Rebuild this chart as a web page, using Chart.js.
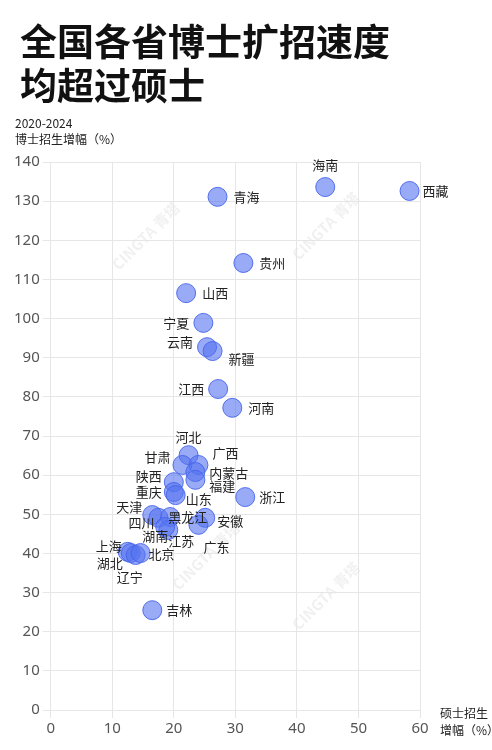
<!DOCTYPE html>
<html>
<head>
<meta charset="utf-8">
<script src="https://cdn.jsdelivr.net/npm/chart.js@4"></script>
<style>
  html, body { margin: 0; padding: 0; background: #fff; }
  #wrap { position: relative; width: 492px; height: 750px; }
</style>
</head>
<body>
<div id="wrap"><canvas id="c" width="492" height="750"></canvas></div>
<script>
// 各省 硕士招生增幅 (x) 与 博士招生增幅 (y), 2020-2024, %
const provinces = ['海南','西藏','青海','贵州','山西','宁夏','云南','新疆','江西','河南',
  '河北','甘肃','广西','内蒙古','福建','陕西','重庆','山东','浙江','天津','四川','黑龙江',
  '安徽','广东','江苏','湖南','上海','湖北','辽宁','北京','吉林'];
const masterGrowth = [44.6, 58.3, 27.1, 31.3, 22.0, 24.8, 25.4, 26.3, 27.2, 29.5,
  22.4, 21.4, 24.0, 23.5, 23.5, 20.0, 20.0, 20.3, 31.6, 16.5, 17.5, 19.4,
  25.1, 24.0, 19.1, 18.6, 12.5, 13.0, 13.8, 14.6, 16.5];
const phdGrowth = [133.6, 132.6, 131.1, 114.2, 106.5, 98.9, 92.7, 91.7, 82.0, 77.2,
  65.1, 62.6, 62.6, 60.8, 58.8, 58.2, 55.7, 54.9, 54.4, 49.8, 49.1, 49.3,
  49.1, 47.3, 46.0, 46.8, 40.4, 40.1, 39.6, 40.1, 25.5];
const xTicks = [0, 10, 20, 30, 40, 50, 60];
const yTicks = [0, 10, 20, 30, 40, 50, 60, 70, 80, 90, 100, 110, 120, 130, 140];

// 标签方向 (r 右, l 左, t 上) 与像素偏移
const labelPlace = {
  '海南': ['t', 0, -22], '西藏': ['r', 13, 0], '青海': ['r', 16, 0], '贵州': ['r', 16, 0],
  '山西': ['r', 16, 0], '宁夏': ['l', -14, 0], '云南': ['l', -14, -5], '新疆': ['r', 16, 8],
  '江西': ['l', -14, 0], '河南': ['r', 16, 0], '河北': ['t', 0, -18], '甘肃': ['l', -12, -8],
  '广西': ['r', 14, -12], '内蒙古': ['r', 14, 1], '福建': ['r', 14, 6], '陕西': ['l', -12, -6],
  '重庆': ['l', -12, 0], '山东': ['r', 10, 4], '浙江': ['r', 14, 0], '天津': ['l', -10, -8],
  '四川': ['l', -4, 5], '黑龙江': ['r', -2, 0], '安徽': ['r', 12, 3], '广东': ['r', 5, 22],
  '江苏': ['r', 0, 11], '湖南': ['l', 3, 9], '上海': ['l', -6, -6], '湖北': ['l', -8, 10],
  '辽宁': ['t', -6, 22], '北京': ['r', 8, 1], '吉林': ['r', 14, 0]
};

const points = provinces.map((p, i) => ({ x: masterGrowth[i], y: phdGrowth[i], name: p }));

const labelPlugin = {
  id: 'labels',
  afterDatasetsDraw(chart) {
    const ctx = chart.ctx;
    const meta = chart.getDatasetMeta(0);
    ctx.save();
    ctx.font = '13px "Noto Sans CJK SC"';
    ctx.fillStyle = '#222';
    ctx.textBaseline = 'middle';
    meta.data.forEach((el, i) => {
      const name = provinces[i];
      const pl = labelPlace[name] || ['r', 14, 0];
      ctx.textAlign = pl[0] === 'l' ? 'right' : (pl[0] === 'r' ? 'left' : 'center');
      ctx.fillText(name, el.x + pl[1], el.y + pl[2]);
    });
    ctx.restore();
  }
};

const decorPlugin = {
  id: 'decor',
  beforeDraw(chart) {
    const ctx = chart.ctx;
    ctx.save();
    ctx.fillStyle = 'rgba(0,0,0,0.06)';
    ctx.font = 'bold 15px "Noto Sans CJK SC"';
    [[150, 240], [330, 230], [210, 560], [330, 600]].forEach(([x, y]) => {
      ctx.save(); ctx.translate(x, y); ctx.rotate(-Math.PI / 4);
      ctx.textAlign = 'center'; ctx.fillText('CINGTA 青塔', 0, 0); ctx.restore();
    });
    ctx.restore();
  },
  afterDraw(chart) {
    const ctx = chart.ctx;
    ctx.save();
    ctx.fillStyle = '#111';
    ctx.textBaseline = 'alphabetic';
    ctx.textAlign = 'left';
    ctx.font = 'bold 37px "Noto Sans CJK SC"';
    ctx.fillText('全国各省博士扩招速度', 20, 56);
    ctx.fillText('均超过硕士', 20, 100);
    ctx.font = '12px "Noto Sans CJK SC"';
    ctx.fillStyle = '#222';
    ctx.fillText('2020-2024', 15, 128);
    ctx.fillText('博士招生增幅（%）', 15, 144);
    ctx.fillText('硕士招生', 440, 718);
    ctx.fillText('增幅（%）', 440, 735);
    ctx.restore();
  }
};

new Chart(document.getElementById('c'), {
  type: 'scatter',
  data: {
    datasets: [{
      data: points,
      pointRadius: 9.5,
      pointHoverRadius: 9.5,
      backgroundColor: 'rgba(85,115,240,0.6)',
      borderColor: 'rgba(70,100,235,0.9)',
      borderWidth: 1
    }]
  },
  options: {
    responsive: false,
    animation: false,
    plugins: { legend: { display: false }, tooltip: { enabled: false } },
    layout: { padding: { top: 162, right: 72, left: 11, bottom: 10 } },
    scales: {
      x: {
        min: 0, max: 60,
        afterBuildTicks: s => { s.ticks = xTicks.map(v => ({ value: v })); },
        grid: { color: '#e6e6e6' },
        border: { display: false },
        ticks: { color: '#555', padding: 2, font: { size: 15, family: 'Noto Sans' } }
      },
      y: {
        min: 0, max: 140,
        afterBuildTicks: s => { s.ticks = yTicks.map(v => ({ value: v })); },
        grid: { color: '#e6e6e6' },
        border: { display: false },
        ticks: { color: '#555', font: { size: 15, family: 'Noto Sans' } }
      }
    }
  },
  plugins: [labelPlugin, decorPlugin]
});
</script>
</body>
</html>
